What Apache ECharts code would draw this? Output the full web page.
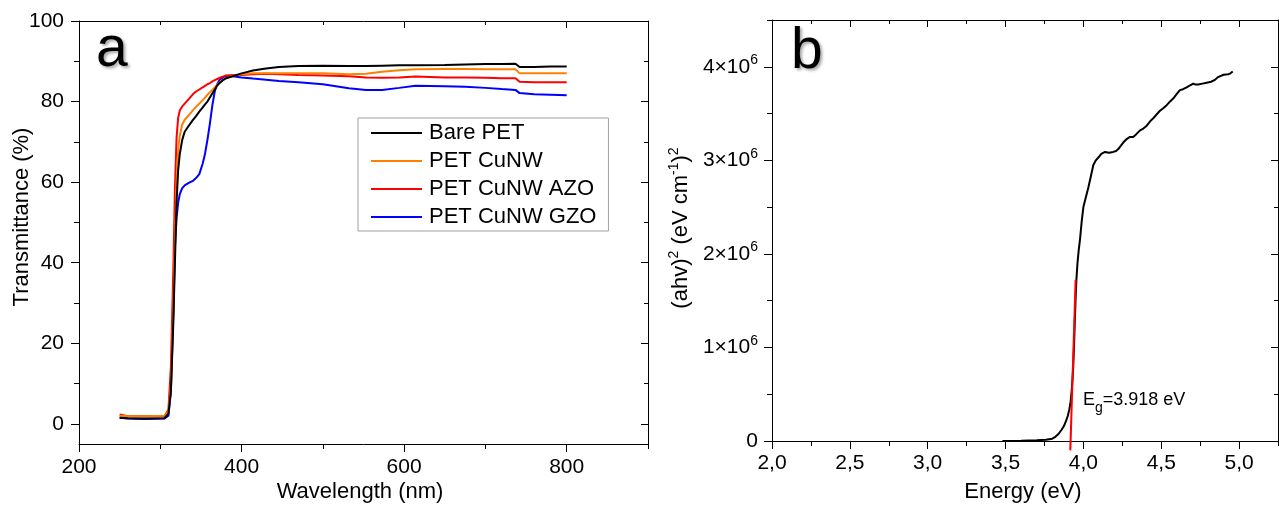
<!DOCTYPE html>
<html>
<head>
<meta charset="utf-8">
<script src="https://cdn.jsdelivr.net/npm/echarts@6/dist/echarts.min.js"></script>
<style>
html,body{margin:0;padding:0;background:#fff;}
#c{width:1279px;height:505px;}
</style>
</head>
<body>
<div id="c"></div>
<script>
// ---------- Panel a : transmittance ----------
const wavelength = [250,260,280,305,310,313,316,318,320,322,324,327,330,335,340,344,348,352,355,358,361,364,367,370,373,377,381,389,400,414,430,446,470,500,532,553,573,594,614,650,675,700,720,737,742,760,780,800];
const barePET = [1.5,1.4,1.3,1.4,2.5,8,25,40,55,63,67,70.5,72.5,74,75.4,76.4,77.5,78.5,79.3,80,81,82,83,84,84.6,85.3,85.8,86.3,87,87.7,88.2,88.6,88.8,88.9,88.8,88.8,88.9,89.0,89.0,89.1,89.2,89.3,89.3,89.4,88.6,88.6,88.7,88.7];
const petCuNW = [2.0,1.9,1.9,2.0,3,9,28,45,60,68,71.5,74.3,75.5,76.6,77.8,78.7,79.5,80.3,81,81.7,82.3,82.9,83.5,84.2,84.7,85.3,85.8,86.4,86.8,87,87,87,87,87,86.8,86.9,87.4,87.8,88,88.1,88.1,88,88,88,87,87,87,87];
const petCuNWAZO = [2.3,1.9,1.9,1.9,3.5,14,38,58,71,76,77.8,78.8,79.5,80.6,81.8,82.5,83,83.5,83.9,84.3,84.6,85,85.3,85.6,85.9,86.2,86.5,86.6,86.6,86.8,86.9,86.8,86.6,86.5,86.3,86,85.9,86,86.2,86,86,85.9,85.8,85.8,84.9,84.8,84.8,84.8];
const petCuNWGZO = [1.5,1.3,1.2,1.3,2,8,27,44,51,55,57,58.5,59.2,59.8,60.3,61,62,64.5,67,70.5,74.5,79,82.5,84.3,85.4,86,86.4,86.3,86,85.7,85.4,85.1,84.8,84.3,83.3,82.9,82.9,83.4,83.9,83.8,83.7,83.4,83.1,82.9,82.1,81.8,81.7,81.6];
const seriesNamesA = ['Bare PET','PET CuNW','PET CuNW AZO','PET CuNW GZO'];
const wlMajorTicks = [200,400,600,800];
const wlMinorTicks = [300,500,700,900];
const tMajorTicks = [0,20,40,60,80,100];
const tMinorTicks = [10,30,50,70,90];

// ---------- Panel b : Tauc plot (values in units of 1e6) ----------
const energy = [3.48,3.6,3.7,3.76,3.8,3.82,3.84,3.86,3.875,3.89,3.9,3.91,3.918,3.925,3.93,3.935,3.94,3.945,3.95,3.955,3.962,3.97,3.978,3.99,4.0,4.015,4.032,4.048,4.064,4.08,4.096,4.115,4.139,4.165,4.192,4.21,4.224,4.256,4.28,4.299,4.32,4.34,4.364,4.385,4.407,4.43,4.449,4.47,4.492,4.515,4.535,4.557,4.577,4.6,4.62,4.64,4.663,4.685,4.706,4.72,4.738,4.765,4.792,4.82,4.845,4.865,4.877,4.9,4.931,4.945,4.959];
const ahv2 = [0,0.004,0.008,0.013,0.025,0.045,0.075,0.12,0.16,0.22,0.27,0.34,0.42,0.54,0.66,0.8,1.02,1.28,1.52,1.72,1.9,2.04,2.15,2.36,2.5,2.6,2.71,2.83,2.95,3.0,3.03,3.07,3.09,3.08,3.09,3.1,3.12,3.19,3.23,3.25,3.25,3.28,3.32,3.34,3.37,3.42,3.45,3.49,3.53,3.56,3.59,3.63,3.66,3.71,3.75,3.76,3.78,3.8,3.82,3.81,3.81,3.82,3.83,3.84,3.86,3.89,3.91,3.915,3.92,3.93,3.95];
const egLineE = [3.916, 3.95];
const egLineV = [-0.1, 1.72];
const eMajorTicks = [2.0,2.5,3.0,3.5,4.0,4.5,5.0];
const eMinorTicks = [2.25,2.75,3.25,3.75,4.25,4.75,5.25];
const vMajorTicks = [0,1,2,3,4];
const vMinorTicks = [0.5,1.5,2.5,3.5,4.5];

const FONT = "'Liberation Sans', Arial, Helvetica, sans-serif";
const AX = {color:'#000', width:1};

function axisSet(kind, grid, min, max, major, minor, labelCfg) {
  const p1 = kind === 'x' ? 'bottom' : 'left';
  const p2 = kind === 'x' ? 'top' : 'right';
  const base = {gridIndex:grid, type:'value', min:min, max:max, splitLine:{show:false}};
  return [
    Object.assign({}, base, {position:p1,
      axisLine:{show:true, onZero:false, lineStyle:AX},
      axisTick:{show:true, inside:false, length:8, customValues:major, lineStyle:AX},
      axisLabel:labelCfg}),
    Object.assign({}, base, {position:p1,
      axisLine:{show:false, onZero:false},
      axisTick:{show:true, inside:false, length:5, customValues:minor, lineStyle:AX},
      axisLabel:{show:false}}),
    Object.assign({}, base, {position:p2,
      axisLine:{show:true, onZero:false, lineStyle:AX},
      axisTick:{show:true, inside:true, length:7, customValues:major, lineStyle:AX},
      axisLabel:{show:false}}),
    Object.assign({}, base, {position:p2,
      axisLine:{show:false, onZero:false},
      axisTick:{show:true, inside:true, length:4, customValues:minor, lineStyle:AX},
      axisLabel:{show:false}})
  ];
}

const lblA_x = {show:true, customValues:wlMajorTicks, fontSize:21, fontFamily:FONT, color:'#000', margin:13};
const lblA_y = {show:true, customValues:tMajorTicks, fontSize:21, fontFamily:FONT, color:'#000', margin:15};
const lblB_x = {show:true, customValues:eMajorTicks, fontSize:21, fontFamily:FONT, color:'#000', margin:12,
  formatter: v => v.toFixed(1).replace('.', ',')};
const lblB_y = {show:true, customValues:vMajorTicks, fontSize:21, fontFamily:FONT, color:'#000', margin:14,
  formatter: v => v === 0 ? '{m|0}' : '{m|' + v + '×10}{s|6}',
  rich:{
    m:{fontSize:21, fontFamily:FONT, color:'#000', lineHeight:21, verticalAlign:'bottom'},
    s:{fontSize:14, fontFamily:FONT, color:'#000', lineHeight:14, verticalAlign:'bottom', padding:[0,0,10,0]}
  }};

const xAxes = [].concat(
  axisSet('x', 0, 200, 900, wlMajorTicks, wlMinorTicks, lblA_x),
  axisSet('x', 1, 2.0, 5.25, eMajorTicks, eMinorTicks, lblB_x)
);
const yAxes = [].concat(
  axisSet('y', 0, -5, 100, tMajorTicks, tMinorTicks, lblA_y),
  axisSet('y', 1, 0, 4.5, vMajorTicks, vMinorTicks, lblB_y)
);

const colorsA = ['#000000','#ff8000','#ff0000','#0000ff'];
const dataA = [barePET, petCuNW, petCuNWAZO, petCuNWGZO];
const seriesA = dataA.map((arr, k) => ({
  name: seriesNamesA[k], type:'line', xAxisIndex:0, yAxisIndex:0,
  data: wavelength.map((w, i) => [w, arr[i]]),
  symbol:'none', smooth:false, z: 10 - k,
  lineStyle:{color:colorsA[k], width:2}, itemStyle:{color:colorsA[k]}
}));

const option = {
  animation:false,
  backgroundColor:'#ffffff',
  textStyle:{fontFamily:FONT},
  grid:[
    {left:79, top:21, right:631, bottom:61},
    {left:772, top:20, right:1, bottom:64}
  ],
  xAxis: xAxes,
  yAxis: yAxes,
  legend:{
    data: seriesNamesA,
    icon:'rect',
    orient:'vertical', left:358, top:118,
    padding:[4,12,3,13], itemGap:6,
    itemWidth:51, itemHeight:2,
    borderColor:'#a0a0a0', borderWidth:1,
    textStyle:{fontSize:22, fontFamily:FONT, color:'#000', padding:[0,0,0,2], lineHeight:22}
  },
  series: seriesA.concat([
    {name:'Tauc', type:'line', xAxisIndex:4, yAxisIndex:4,
     data: energy.map((e, i) => [e, ahv2[i]]),
     symbol:'none', lineStyle:{color:'#000', width:2}, z:5},
    {name:'Eg fit', type:'line', xAxisIndex:4, yAxisIndex:4, clip:false,
     data: egLineE.map((e, i) => [e, egLineV[i]]),
     symbol:'none', lineStyle:{color:'#ff0000', width:2}, z:6}
  ]),
  graphic:[
    {type:'text', x:96, y:50, z:100, style:{text:'a', font:'57px ' + FONT, fill:'#000', verticalAlign:'middle',
      textShadowColor:'rgba(0,0,0,0.35)', textShadowBlur:3, textShadowOffsetX:2, textShadowOffsetY:2,
      shadowColor:'rgba(0,0,0,0.35)', shadowBlur:3, shadowOffsetX:2, shadowOffsetY:2}},
    {type:'text', x:791, y:52, z:100, style:{text:'b', font:'57px ' + FONT, fill:'#000', verticalAlign:'middle',
      textShadowColor:'rgba(0,0,0,0.35)', textShadowBlur:3, textShadowOffsetX:2, textShadowOffsetY:2,
      shadowColor:'rgba(0,0,0,0.35)', shadowBlur:3, shadowOffsetX:2, shadowOffsetY:2}},
    {type:'text', x:360, y:492, style:{text:'Wavelength (nm)', font:'22px ' + FONT, fill:'#000', align:'center', verticalAlign:'middle'}},
    {type:'text', x:1023, y:492, style:{text:'Energy (eV)', font:'22px ' + FONT, fill:'#000', align:'center', verticalAlign:'middle'}},
    {type:'text', x:22, y:217, rotation:Math.PI/2, style:{text:'Transmittance (%)', font:'22px ' + FONT, fill:'#000', align:'center', verticalAlign:'middle'}},
    {type:'text', x:681, y:228, rotation:Math.PI/2, style:{
      text:'{m|(ahv)}{s|2}{m| (eV cm}{s|-1}{m|)}{s|2}',
      font:'22px ' + FONT, fill:'#000', align:'center', verticalAlign:'middle',
      rich:{
        m:{fontSize:22, fontFamily:FONT, fill:'#000', color:'#000', lineHeight:22, verticalAlign:'bottom'},
        s:{fontSize:14, fontFamily:FONT, fill:'#000', color:'#000', lineHeight:14, verticalAlign:'bottom', padding:[0,0,11,0]}
      }}},
    {type:'text', x:1083, y:400, style:{
      text:'{m|E}{s|g}{m|=3.918 eV}',
      font:'18px ' + FONT, fill:'#000', align:'left', verticalAlign:'middle',
      rich:{
        m:{fontSize:18, fontFamily:FONT, fill:'#000', color:'#000', lineHeight:18, verticalAlign:'top', padding:[0,0,0,0]},
        s:{fontSize:14, fontFamily:FONT, fill:'#000', color:'#000', lineHeight:14, verticalAlign:'top', padding:[10,0,0,0]}
      }}}
  ]
};

const chart = echarts.init(document.getElementById('c'), null, {renderer:'canvas'});
chart.setOption(option);
</script>
</body>
</html>
